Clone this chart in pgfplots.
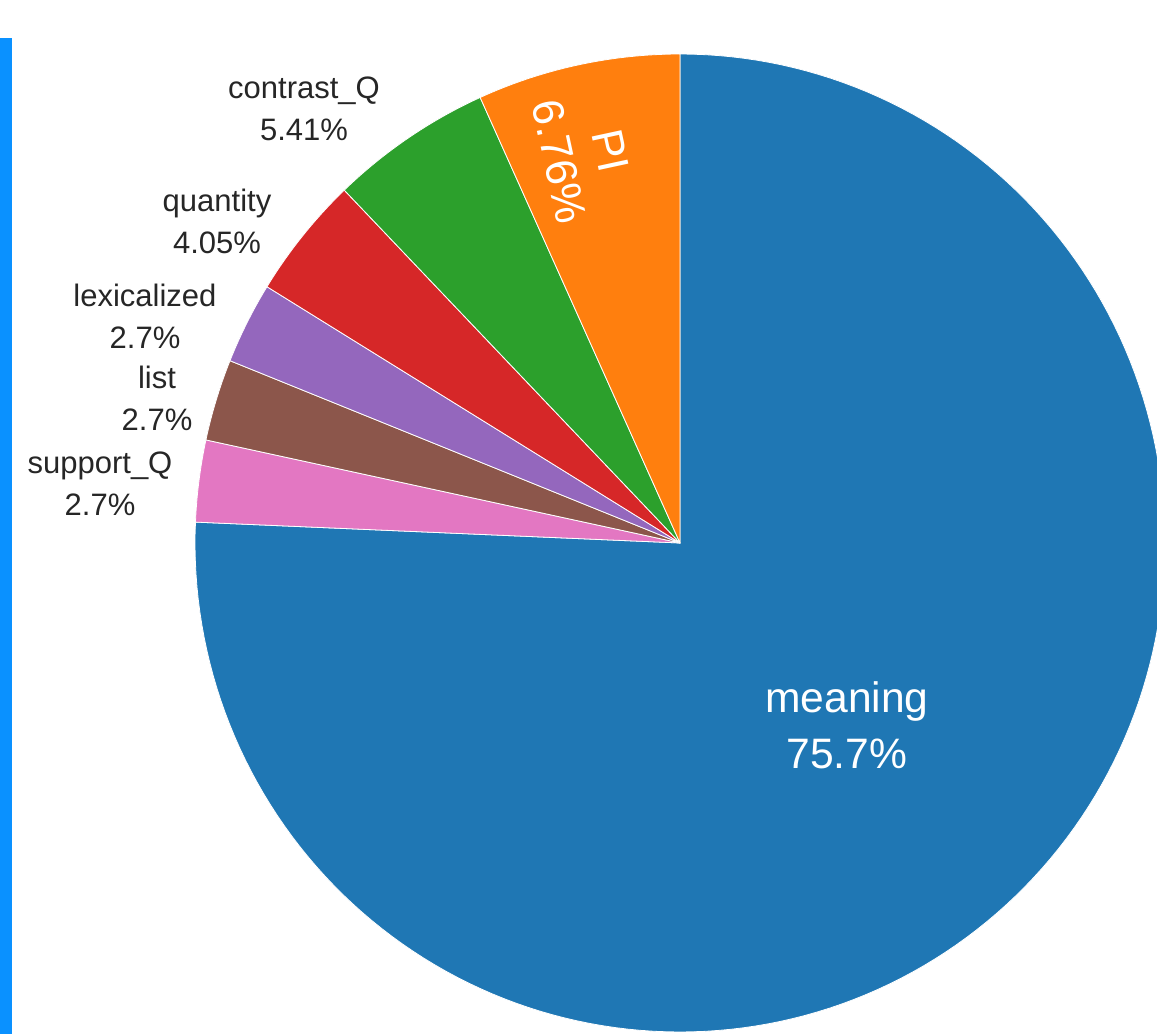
\documentclass[border=0pt]{standalone}
\usepackage{pgfplots}
\pgfplotsset{compat=1.18}
\usepackage{fontspec}
\setmainfont{Liberation Sans}
\definecolor{cmeaning}{HTML}{1F77B4}
\definecolor{cPI}{HTML}{FF7F0E}
\definecolor{ccontrast}{HTML}{2CA02C}
\definecolor{cquantity}{HTML}{D62728}
\definecolor{clexical}{HTML}{9467BD}
\definecolor{clist}{HTML}{8C564B}
\definecolor{csupport}{HTML}{E377C2}
\definecolor{cbar}{RGB}{10,145,255}
\begin{document}
\begin{tikzpicture}
% percentages (56, 2, 2, 2, 3, 4, 5 of 74)
\def\vmeaning{75.68}
\def\vsupport{2.70}
\def\vlist{2.70}
\def\vlexical{2.70}
\def\vquantity{4.05}
\def\vcontrast{5.41}
\def\vPI{6.76}
\pgfmathsetmacro{\aA}{90-3.6*\vmeaning}
\pgfmathsetmacro{\aB}{\aA-3.6*\vsupport}
\pgfmathsetmacro{\aC}{\aB-3.6*\vlist}
\pgfmathsetmacro{\aD}{\aC-3.6*\vlexical}
\pgfmathsetmacro{\aE}{\aD-3.6*\vquantity}
\pgfmathsetmacro{\aF}{\aE-3.6*\vcontrast}
\pgfmathsetmacro{\aG}{\aF-3.6*\vPI}
\def\cx{680}\def\cy{-543}\def\Rx{485}\def\Ry{489}
\begin{axis}[
  width=578.5pt, height=517pt, scale only axis,
  xmin=0, xmax=1157, ymin=-1034, ymax=0,
  hide axis, clip=true,
  every axis plot/.append style={draw=white, line width=0.4pt, line join=round},
]
\addplot[fill=cmeaning, domain=\aA:90, samples=181, variable=\t] ({\cx+\Rx*cos(t)},{\cy+\Ry*sin(t)}) -- (axis cs:\cx,\cy) -- cycle;
\addplot[fill=csupport, domain=\aB:\aA, samples=12, variable=\t] ({\cx+\Rx*cos(t)},{\cy+\Ry*sin(t)}) -- (axis cs:\cx,\cy) -- cycle;
\addplot[fill=clist, domain=\aC:\aB, samples=12, variable=\t] ({\cx+\Rx*cos(t)},{\cy+\Ry*sin(t)}) -- (axis cs:\cx,\cy) -- cycle;
\addplot[fill=clexical, domain=\aD:\aC, samples=12, variable=\t] ({\cx+\Rx*cos(t)},{\cy+\Ry*sin(t)}) -- (axis cs:\cx,\cy) -- cycle;
\addplot[fill=cquantity, domain=\aE:\aD, samples=16, variable=\t] ({\cx+\Rx*cos(t)},{\cy+\Ry*sin(t)}) -- (axis cs:\cx,\cy) -- cycle;
\addplot[fill=ccontrast, domain=\aF:\aE, samples=20, variable=\t] ({\cx+\Rx*cos(t)},{\cy+\Ry*sin(t)}) -- (axis cs:\cx,\cy) -- cycle;
\addplot[fill=cPI, domain=\aG:\aF, samples=24, variable=\t] ({\cx+\Rx*cos(t)},{\cy+\Ry*sin(t)}) -- (axis cs:\cx,\cy) -- cycle;
\addplot[fill=cbar, draw=none] coordinates {(0,-38) (12,-38) (12,-1034) (0,-1034)} -- cycle;
% labels
\tikzset{olab/.style={align=center, text=black!85, font=\fontsize{15.5}{21}\selectfont, inner sep=0pt},
         ilab/.style={align=center, text=white, font=\fontsize{21.3}{28}\selectfont, inner sep=0pt}}
\node[olab] at (axis cs:304,-109) {contrast\_Q\\5.41\%};
\node[olab] at (axis cs:217,-221) {quantity\\4.05\%};
\node[olab] at (axis cs:145,-316) {lexicalized\\2.7\%};
\node[olab] at (axis cs:157,-398) {list\\2.7\%};
\node[olab] at (axis cs:100,-484) {support\_Q\\2.7\%};
\node[ilab] at (axis cs:847,-725) {meaning\\75.7\%};
\node[ilab, font=\fontsize{22}{26}\selectfont, rotate=-77.8] at (axis cs:585,-156) {PI\\6.76\%};
\end{axis}
\path (current axis.south west) rectangle (current axis.north east);
\end{tikzpicture}
\end{document}
